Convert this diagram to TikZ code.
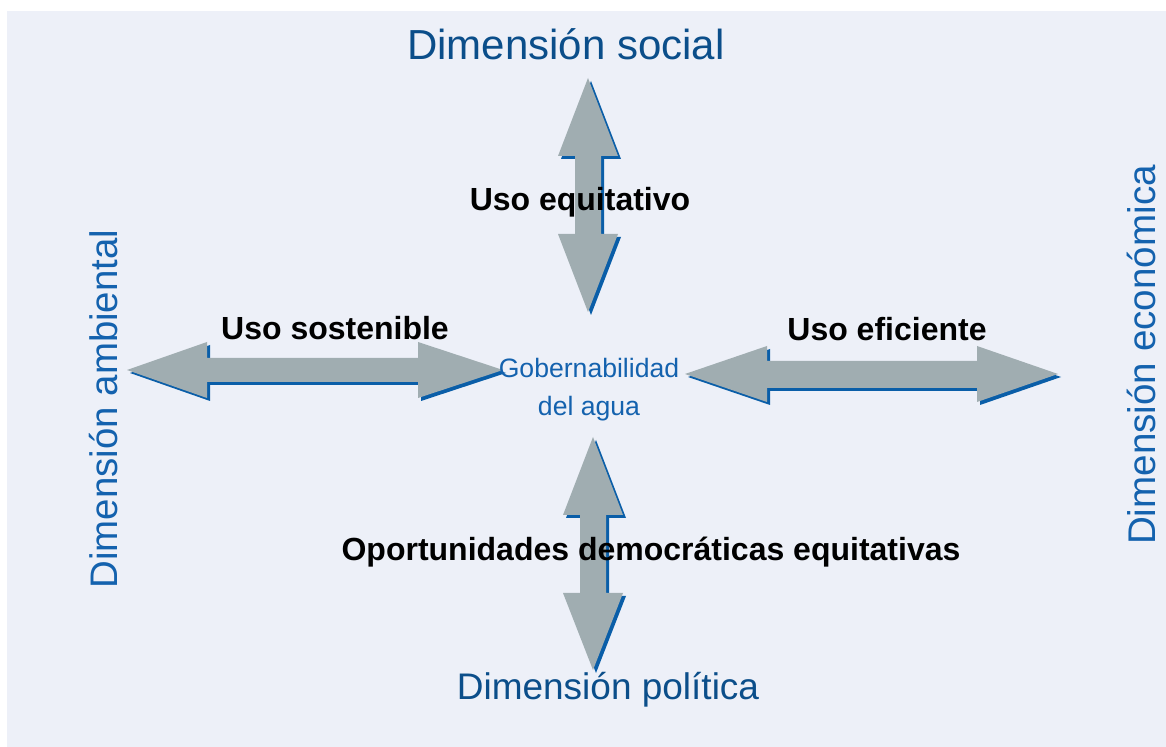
\documentclass[tikz,border=0pt]{standalone}
\usepackage{fontspec}
\setmainfont{Liberation Sans}
\definecolor{fondo}{HTML}{EDF0F8}
\definecolor{gris}{HTML}{A0ADB1}
\definecolor{azul}{HTML}{0A5EA8}
\definecolor{azultitulo}{HTML}{0B4E8A}
\definecolor{azullado}{HTML}{1462AE}
\newcommand{\flecha}[1]{%
	\fill[azul,shift={(3,3)}] #1;
	\fill[gris] #1;}
\tikzset{
	dimension/.style={anchor=base,inner sep=0pt},
	etiqueta/.style={anchor=base,inner sep=0pt,font=\bfseries\fontsize{16}{19}\selectfont}
}
\begin{document}
\begin{tikzpicture}[x=0.5pt,y=-0.5pt]
		\useasboundingbox (0,0) rectangle (1166,747);
		\fill[fondo] (7,11) rectangle (1166,747); % fondo
		\flecha{(588,78) -- (618,156) -- (601,156) -- (601,234) -- (618,234) -- (588,312)
			-- (558,234) -- (575,234) -- (575,156) -- (558,156) -- cycle}
		\flecha{(593,437) -- (623,515) -- (606,515) -- (606,593) -- (623,593) -- (593,670)
			-- (563,593) -- (580,593) -- (580,515) -- (563,515) -- cycle}
		\flecha{(127,370) -- (207,342) -- (207,358) -- (418,358) -- (418,342) -- (503,370)
			-- (418,398) -- (418,382) -- (207,382) -- (207,398) -- cycle}
		\flecha{(685,374) -- (767,346) -- (767,361) -- (977,361) -- (977,346) -- (1058,374)
			-- (977,402) -- (977,388) -- (767,388) -- (767,402) -- cycle}
		\node[dimension,text=azultitulo,font=\fontsize{21}{25}\selectfont] (social) at (566,60) {Dimensión social};
		\node[dimension,text=azultitulo,font=\fontsize{18.5}{22}\selectfont] (politica) at (608,699) {Dimensión política};
		\node[dimension,rotate=90,text=azullado,font=\fontsize{19.2}{23}\selectfont] (ambiental) at (117,409) {Dimensión ambiental};
		\node[dimension,rotate=90,text=azullado,font=\fontsize{19.3}{23}\selectfont] (economica) at (1155,355) {Dimensión económica};
		\node[dimension,text=azullado,font=\fontsize{13.3}{16}\selectfont] (gob) at (589,378) {Gobernabilidad};
		\node[dimension,text=azullado,font=\fontsize{13.3}{16}\selectfont] (agua) at (589,416) {del agua};
		\node[etiqueta] (equitativo) at (580,211) {Uso equitativo};
		\node[etiqueta] (sostenible) at (335,340) {Uso sostenible};
		\node[etiqueta] (eficiente) at (887,341) {Uso eficiente};
		\node[etiqueta] (oportunidades) at (651,561) {Oportunidades democráticas equitativas};
	\end{tikzpicture}
\end{document}
